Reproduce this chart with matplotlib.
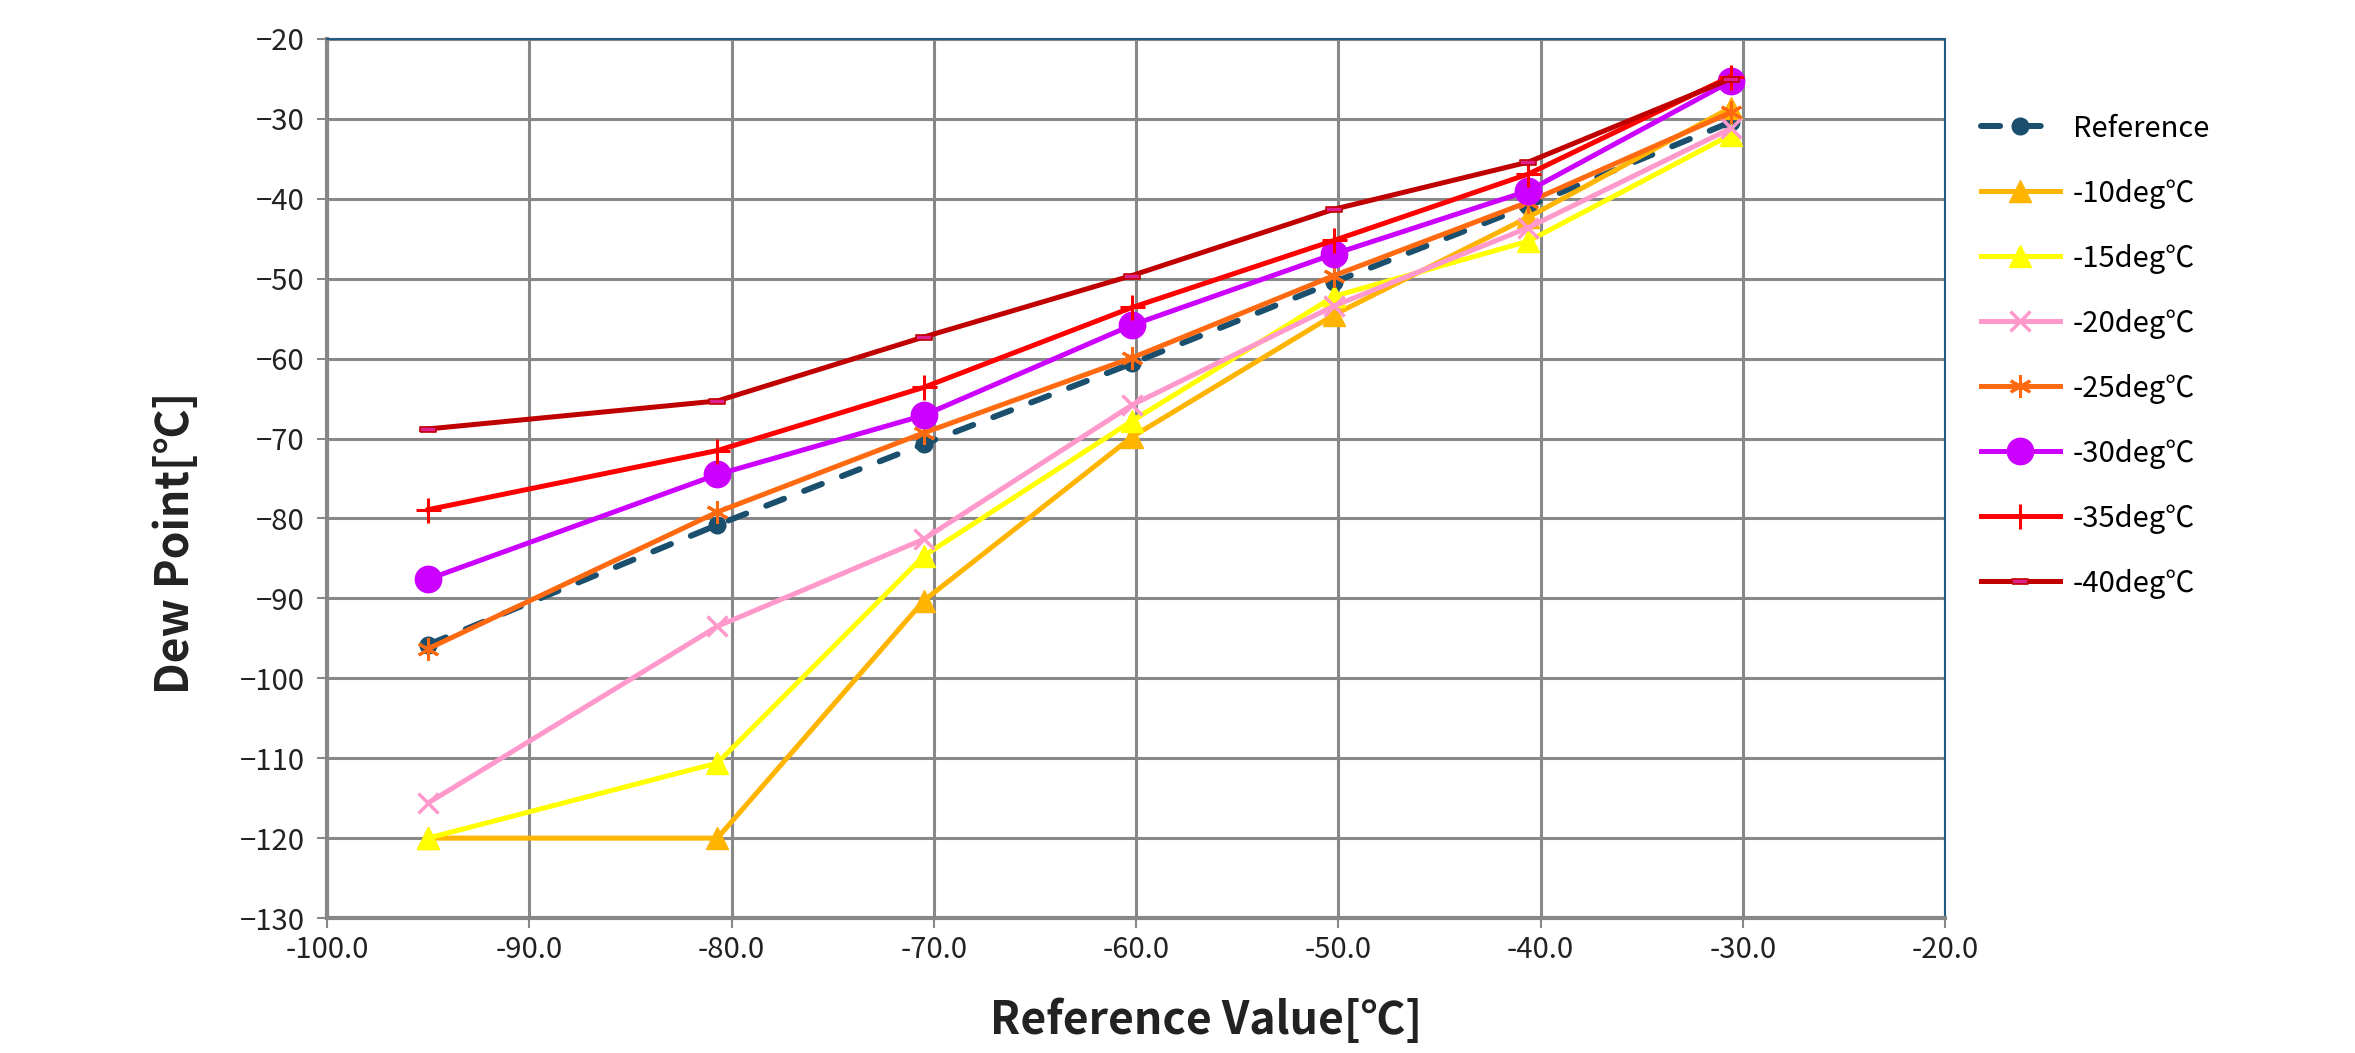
import matplotlib

matplotlib.use("Agg")

import matplotlib.pyplot as plt
from matplotlib.ticker import FormatStrFormatter

plt.rcParams["font.family"] = ["Noto Sans CJK JP", "DejaVu Sans"]

# reference readings (x) and measured dew points per chamber temperature
ref_x = [-95.0, -80.7, -70.5, -60.2, -50.2, -40.6, -30.6]
reference = [-95.8, -80.8, -70.7, -60.6, -50.4, -40.9, -30.4]
dp_m10 = [-120.0, -120.0, -90.3, -69.8, -54.5, -42.3, -28.6]
dp_m15 = [-120.0, -110.6, -84.7, -67.8, -52.2, -45.3, -32.0]
dp_m20 = [-115.6, -93.5, -82.6, -65.8, -53.4, -43.6, -31.2]
dp_m25 = [-96.3, -79.2, -69.3, -59.9, -49.6, -40.4, -29.2]
dp_m30 = [-87.6, -74.5, -67.1, -55.8, -46.9, -39.0, -25.3]
dp_m35 = [-78.9, -71.5, -63.6, -53.6, -45.2, -36.9, -24.7]
dp_m40 = [-68.8, -65.3, -57.3, -49.6, -41.3, -35.4, -25.0]

labels = ["Reference", "-10deg℃", "-15deg℃", "-20deg℃", "-25deg℃",
          "-30deg℃", "-35deg℃", "-40deg℃"]

fig = plt.figure(figsize=(23.55, 10.53), dpi=100, facecolor="white")
ax = fig.add_axes([0.1389, 0.1282, 0.6870, 0.8348])

dash_pill = [(-1, -0.3), (1, -0.3), (1, 0.3), (-1, 0.3), (-1, -0.3)]

ax.plot(ref_x, reference, color="#1B4F6E", lw=4.3, ls=(0, (3.2, 3.6)),
        dash_capstyle="round", marker="o", ms=12, label=labels[0], zorder=3)
ax.plot(ref_x, dp_m10, color="#FFB400", lw=3.6, marker="^", ms=16,
        label=labels[1], zorder=3)
ax.plot(ref_x, dp_m15, color="#FFFF00", lw=3.6, marker="^", ms=16,
        label=labels[2], zorder=3)
ax.plot(ref_x, dp_m20, color="#FF99CC", lw=3.6, marker="x", ms=14, mew=2.5,
        label=labels[3], zorder=3)
ax.plot(ref_x, dp_m25, color="#FF6A10", lw=3.6, marker=(6, 2, 0), ms=16, mew=2.2,
        label=labels[4], zorder=3)
ax.plot(ref_x, dp_m30, color="#CC00FF", lw=3.6, marker="o", ms=19,
        label=labels[5], zorder=3)
ax.plot(ref_x, dp_m35, color="#FF0000", lw=3.6, marker="+", ms=18, mew=2.2,
        label=labels[6], zorder=3)
ax.plot(ref_x, dp_m40, color="#C00000", lw=3.6, marker=dash_pill, ms=12,
        mfc="#E0208F", mec="#C00000", mew=1.2, label=labels[7], zorder=3)

ax.set_xlim(-100, -20)
ax.set_ylim(-130, -20)
ax.set_xticks(range(-100, -19, 10))
ax.set_yticks(range(-130, -19, 10))
ax.xaxis.set_major_formatter(FormatStrFormatter("%.1f"))

ax.grid(True, color="#888888", lw=2.2, zorder=0)
ax.set_axisbelow(True)
for side in ["left", "bottom"]:
    ax.spines[side].set_color("#888888")
    ax.spines[side].set_linewidth(3.0)
for side in ["top", "right"]:
    ax.spines[side].set_color("#1F5C80")
    ax.spines[side].set_linewidth(1.5)

ax.tick_params(axis="both", direction="out", length=7, width=1.5,
               color="#888888", labelsize=21, labelcolor="#222222")
ax.tick_params(axis="y", pad=9)
ax.tick_params(axis="x", pad=5)

ax.set_xlabel("Reference Value[℃]", fontsize=32, fontweight="bold",
              color="#222222")
ax.set_ylabel("Dew Point[℃]", fontsize=32, fontweight="bold",
              color="#222222")
# Excel-style title placement (not centred on the plot area)
ax.xaxis.set_label_coords(0.543, -0.091)
ax.yaxis.set_label_coords(-0.079, 0.427)

leg = fig.legend(loc="upper left", bbox_to_anchor=(0.830, 0.917), frameon=False,
                 fontsize=21, handlelength=2.7, labelspacing=1.2,
                 handletextpad=0.45)

fig.savefig("out.png", dpi=100, facecolor="white")
